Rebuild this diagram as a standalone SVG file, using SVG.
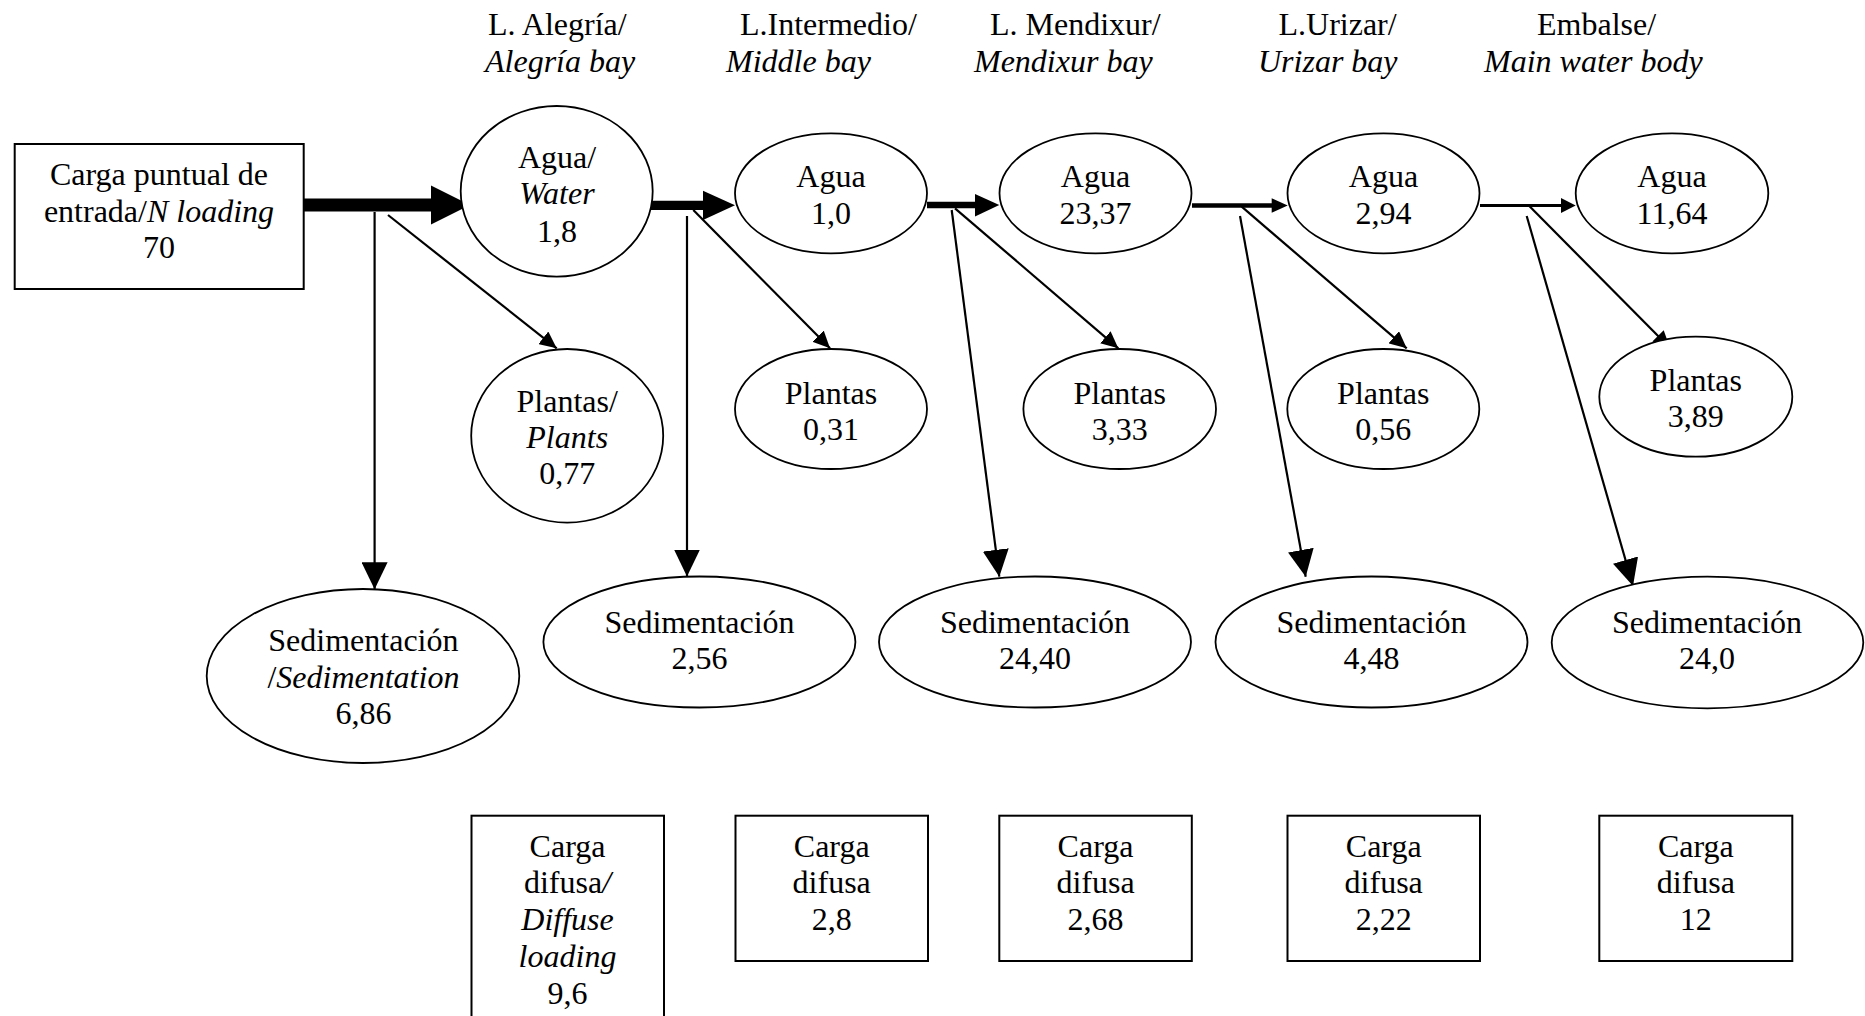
<svg xmlns="http://www.w3.org/2000/svg" width="1865" height="1016" viewBox="0 0 1865 1016">
  <defs>
    <style>
      text { font-family: "Liberation Serif", "Times New Roman", serif; font-size: 32px; fill: #000; }
      .c { text-anchor: middle; }
      .i { font-style: italic; }
      .node { fill: #fff; stroke: #000; stroke-width: 1.8; }
      .box { fill: #fff; stroke: #000; stroke-width: 2; }
      .thin { stroke: #000; stroke-width: 2.2; fill: none; }
      .thick { stroke: #000; fill: none; }
      .head { fill: #000; }
    </style>
    <!-- small head for the plant branches -->
    <marker id="hs" markerUnits="userSpaceOnUse" markerWidth="17" markerHeight="16" refX="17" refY="8" orient="auto">
      <path d="M0,0 L17,8 L0,16 Z" fill="#000"/>
    </marker>
    <!-- large head for the sedimentation branches -->
    <marker id="hl" markerUnits="userSpaceOnUse" markerWidth="27" markerHeight="26" refX="27" refY="13" orient="auto">
      <path d="M0,0 L27,13 L0,26 Z" fill="#000"/>
    </marker>
  </defs>

  <rect width="1865" height="1016" fill="#fff"/>

  <!-- column headings -->
  <g id="headings">
    <text x="488" y="34.5">L. Alegría/</text>
    <text x="485" y="71.5" class="i">Alegría bay</text>
    <text x="740" y="34.5">L.Intermedio/</text>
    <text x="726" y="71.5" class="i">Middle bay</text>
    <text x="990" y="34.5">L. Mendixur/</text>
    <text x="974" y="71.5" class="i">Mendixur bay</text>
    <text x="1278.5" y="34.5">L.Urizar/</text>
    <text x="1258" y="71.5" class="i">Urizar bay</text>
    <text x="1537" y="34.5">Embalse/</text>
    <text x="1484" y="71.5" class="i">Main water body</text>
  </g>

  <!-- connectors -->
  <g id="connectors">
    <!-- main flow, thinning downstream -->
    <line class="thick" x1="303" y1="205" x2="432" y2="205" stroke-width="13"/>
    <polygon class="head" points="431,185.5 470,205 431,224.5"/>
    <line class="thick" x1="639" y1="205.3" x2="704" y2="205.3" stroke-width="9.3"/>
    <polygon class="head" points="703,190.7 735,205.3 703,220"/>
    <line class="thick" x1="927" y1="205" x2="976" y2="205" stroke-width="6.7"/>
    <polygon class="head" points="975,194 999.3,205 975,216.5"/>
    <line class="thick" x1="1192" y1="205.5" x2="1272" y2="205.5" stroke-width="4.5"/>
    <polygon class="head" points="1271.7,198.3 1287.7,205.5 1271.7,212.7"/>
    <line class="thick" x1="1480" y1="205.5" x2="1562" y2="205.5" stroke-width="2.8"/>
    <polygon class="head" points="1561,198 1575.7,205.5 1561,213"/>

    <!-- branches to plants -->
    <line class="thin" x1="388" y1="215" x2="556.7" y2="348.3" marker-end="url(#hs)"/>
    <line class="thin" x1="693.3" y1="210" x2="830" y2="348.3" marker-end="url(#hs)"/>
    <line class="thin" x1="955" y1="208.3" x2="1118.3" y2="348.3" marker-end="url(#hs)"/>
    <line class="thin" x1="1241.7" y1="206.7" x2="1406.7" y2="348.3" marker-end="url(#hs)"/>
    <line class="thin" x1="1528.3" y1="205" x2="1670" y2="348" marker-end="url(#hs)"/>

    <!-- branches to sedimentation -->
    <line class="thin" x1="374.6" y1="212" x2="374.6" y2="589.3" marker-end="url(#hl)"/>
    <line class="thin" x1="687" y1="216" x2="687" y2="576.5" marker-end="url(#hl)"/>
    <line class="thin" x1="951.7" y1="210" x2="999.3" y2="576.7" marker-end="url(#hl)"/>
    <line class="thin" x1="1240" y1="216" x2="1305.7" y2="576.7" marker-end="url(#hl)"/>
    <line class="thin" x1="1526.7" y1="216" x2="1633" y2="586" marker-end="url(#hl)"/>
  </g>

  <!-- point source -->
  <g id="point-load">
    <rect class="box" x="14.7" y="144" width="289" height="145"/>
    <text x="159" y="185" class="c">Carga puntual de</text>
    <text x="159" y="221.7" class="c">entrada/<tspan class="i">N loading</tspan></text>
    <text x="159" y="258.3" class="c">70</text>
  </g>

  <!-- water compartments -->
  <g id="water-alegria">
    <ellipse class="node" cx="556.7" cy="191.3" rx="96" ry="85.3"/>
    <text x="557" y="168" class="c">Agua/</text>
    <text x="557" y="204" class="c i">Water</text>
    <text x="557" y="241.7" class="c">1,8</text>
  </g>
  <g id="water-middle">
    <ellipse class="node" cx="831" cy="193.3" rx="96" ry="60"/>
    <text x="831" y="187.3" class="c">Agua</text>
    <text x="831" y="224" class="c">1,0</text>
  </g>
  <g id="water-mendixur">
    <ellipse class="node" cx="1095.5" cy="193.3" rx="96" ry="60"/>
    <text x="1095.5" y="187.3" class="c">Agua</text>
    <text x="1095.5" y="224" class="c">23,37</text>
  </g>
  <g id="water-urizar">
    <ellipse class="node" cx="1383.5" cy="193.3" rx="96" ry="60"/>
    <text x="1383.5" y="187.3" class="c">Agua</text>
    <text x="1383.5" y="224" class="c">2,94</text>
  </g>
  <g id="water-main">
    <ellipse class="node" cx="1672" cy="193.3" rx="96.3" ry="60"/>
    <text x="1672" y="187.3" class="c">Agua</text>
    <text x="1672" y="224" class="c">11,64</text>
  </g>

  <!-- plant compartments -->
  <g id="plants-alegria">
    <ellipse class="node" cx="567.2" cy="435.8" rx="96" ry="86.8"/>
    <text x="567.2" y="411.7" class="c">Plantas/</text>
    <text x="567.2" y="448.3" class="c i">Plants</text>
    <text x="567.2" y="484" class="c">0,77</text>
  </g>
  <g id="plants-middle">
    <ellipse class="node" cx="831" cy="409" rx="96" ry="60"/>
    <text x="831" y="404" class="c">Plantas</text>
    <text x="831" y="440" class="c">0,31</text>
  </g>
  <g id="plants-mendixur">
    <ellipse class="node" cx="1119.7" cy="409" rx="96.3" ry="60"/>
    <text x="1119.7" y="404" class="c">Plantas</text>
    <text x="1119.7" y="440" class="c">3,33</text>
  </g>
  <g id="plants-urizar">
    <ellipse class="node" cx="1383.3" cy="409" rx="96" ry="60"/>
    <text x="1383.3" y="404" class="c">Plantas</text>
    <text x="1383.3" y="440" class="c">0,56</text>
  </g>
  <g id="plants-main">
    <ellipse class="node" cx="1695.8" cy="396.7" rx="96.5" ry="60"/>
    <text x="1695.8" y="390.7" class="c">Plantas</text>
    <text x="1695.8" y="427.3" class="c">3,89</text>
  </g>

  <!-- sedimentation compartments -->
  <g id="sed-alegria">
    <ellipse class="node" cx="363" cy="676" rx="156.3" ry="87"/>
    <text x="363.4" y="650.7" class="c">Sedimentación</text>
    <text x="363.4" y="687.7" class="c">/<tspan class="i">Sedimentation</tspan></text>
    <text x="363.4" y="724" class="c">6,86</text>
  </g>
  <g id="sed-middle">
    <ellipse class="node" cx="699.4" cy="642" rx="156" ry="65.5"/>
    <text x="699.5" y="632.5" class="c">Sedimentación</text>
    <text x="699.5" y="669" class="c">2,56</text>
  </g>
  <g id="sed-mendixur">
    <ellipse class="node" cx="1035" cy="642" rx="156" ry="65.5"/>
    <text x="1035" y="632.5" class="c">Sedimentación</text>
    <text x="1035" y="669" class="c">24,40</text>
  </g>
  <g id="sed-urizar">
    <ellipse class="node" cx="1371.5" cy="642" rx="156" ry="65.5"/>
    <text x="1371.5" y="632.5" class="c">Sedimentación</text>
    <text x="1371.5" y="669" class="c">4,48</text>
  </g>
  <g id="sed-main">
    <ellipse class="node" cx="1707.5" cy="642.5" rx="155.8" ry="65.8"/>
    <text x="1707" y="632.7" class="c">Sedimentación</text>
    <text x="1707" y="669.3" class="c">24,0</text>
  </g>

  <!-- diffuse loads -->
  <g id="diffuse-alegria">
    <rect class="box" x="471.5" y="815.7" width="192.5" height="230"/>
    <text x="567.5" y="856.5" class="c">Carga</text>
    <text x="567.5" y="893" class="c">difusa<tspan class="i">/</tspan></text>
    <text x="567.5" y="930" class="c i">Diffuse</text>
    <text x="567.5" y="967" class="c i">loading</text>
    <text x="567.5" y="1004" class="c">9,6</text>
  </g>
  <g id="diffuse-middle">
    <rect class="box" x="735.5" y="815.7" width="192.5" height="145.3"/>
    <text x="831.7" y="856.5" class="c">Carga</text>
    <text x="831.7" y="893" class="c">difusa</text>
    <text x="831.7" y="930" class="c">2,8</text>
  </g>
  <g id="diffuse-mendixur">
    <rect class="box" x="999.3" y="815.7" width="192.5" height="145.3"/>
    <text x="1095.5" y="856.5" class="c">Carga</text>
    <text x="1095.5" y="893" class="c">difusa</text>
    <text x="1095.5" y="930" class="c">2,68</text>
  </g>
  <g id="diffuse-urizar">
    <rect class="box" x="1287.5" y="815.7" width="192.5" height="145.3"/>
    <text x="1383.7" y="856.5" class="c">Carga</text>
    <text x="1383.7" y="893" class="c">difusa</text>
    <text x="1383.7" y="930" class="c">2,22</text>
  </g>
  <g id="diffuse-main">
    <rect class="box" x="1599.3" y="815.7" width="193" height="145.3"/>
    <text x="1695.8" y="856.5" class="c">Carga</text>
    <text x="1695.8" y="893" class="c">difusa</text>
    <text x="1695.8" y="930" class="c">12</text>
  </g>
</svg>
